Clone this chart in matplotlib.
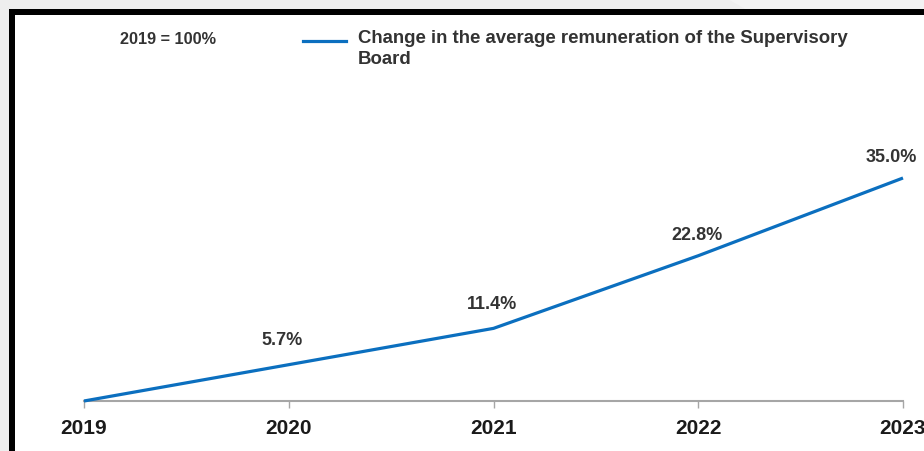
import matplotlib
matplotlib.use("Agg")
import matplotlib.pyplot as plt
from matplotlib.patches import Rectangle, Polygon
from matplotlib.lines import Line2D

years = ["2019", "2020", "2021", "2022", "2023"]
values = [0.0, 5.7, 11.4, 22.8, 35.0]
value_labels = ["", "5.7%", "11.4%", "22.8%", "35.0%"]
legend_label = "Change in the average remuneration of the Supervisory\nBoard"
base_note = "2019 = 100%"

W, H = 924, 452
plt.rcParams['font.family'] = ['Liberation Sans', 'DejaVu Sans']

fig = plt.figure(figsize=(W / 100, H / 100), dpi=100, facecolor='#eeeeee')

def fx(px):
    return px / W

def fy(py):
    return 1 - py / H

# subtle background watermark shape top-right
fig.patches.append(Polygon([[fx(728), fy(0)], [fx(924), fy(0)], [fx(924), fy(10)], [fx(745), fy(10)]],
                           closed=True, transform=fig.transFigure, facecolor='#f3f3f3', edgecolor='none', zorder=0))
# black frame and white panel
fig.patches.append(Rectangle((fx(9), 0), 1, fy(10), transform=fig.transFigure,
                             facecolor='black', edgecolor='none', zorder=1))
fig.patches.append(Rectangle((fx(15), 0), 1, fy(16), transform=fig.transFigure,
                             facecolor='white', edgecolor='none', zorder=2))

x0, x1 = 84, 903
ybase = 402
ppu = (402 - 179) / 35.0
ymax = 40
ax = fig.add_axes([fx(x0), (H - ybase) / H, (x1 - x0) / W, ymax * ppu / H])
ax.set_facecolor('none')
ax.set_zorder(5)
xs = list(range(len(years)))
ax.plot(xs, values, color='#0b6fbf', lw=2.3, clip_on=False, solid_capstyle='butt', zorder=3)
ax.set_xlim(0, len(years) - 1)
ax.set_ylim(0, ymax)
ax.set_xticks(xs)
ax.set_xticklabels(years, fontsize=15, fontweight='bold', color='#1a1a1a')
ax.set_yticks([])
for s in ['top', 'right', 'left']:
    ax.spines[s].set_visible(False)
ax.spines['bottom'].set_color('#a6a6a6')
ax.spines['bottom'].set_linewidth(1.5)
ax.tick_params(axis='x', direction='out', length=5, width=1, color='#a6a6a6', pad=7)

offsets = [(0, 0), (-7, 25), (-2, 25), (-1.5, 21), (-12, 21)]
for x, v, lab, (dx, dy) in zip(xs, values, value_labels, offsets):
    if lab:
        ax.annotate(lab, (x, v), xytext=(dx * 0.72, dy * 0.72), textcoords='offset points',
                    ha='center', va='center', fontsize=13, fontweight='bold', color='#333333',
                    annotation_clip=False)

fig.text(fx(168), fy(40), base_note, ha='center', va='center', fontsize=11.7, fontweight='bold',
         color='#333333', zorder=6)
fig.lines.append(Line2D([fx(303), fx(346)], [fy(42), fy(42)], transform=fig.transFigure,
                        color='#0b6fbf', lw=2.3, zorder=6))
fig.text(fx(358), fy(49), legend_label, ha='left', va='center', fontsize=13.4, fontweight='bold',
         color='#333333', linespacing=1.3, zorder=6)

fig.savefig('out.png', dpi=100, facecolor=fig.get_facecolor())
